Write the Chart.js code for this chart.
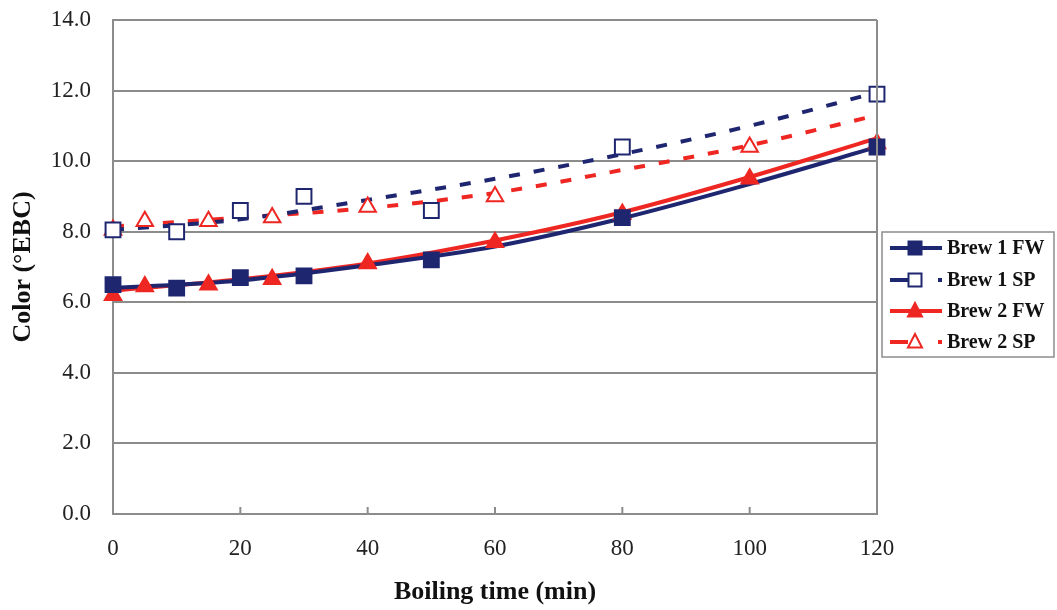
<!DOCTYPE html>
<html>
<head>
<meta charset="utf-8">
<script src="https://cdn.jsdelivr.net/npm/chart.js@4.4.1/dist/chart.umd.min.js"></script>
<style>
  html, body { margin: 0; padding: 0; background: #fff; }
  #wrap { width: 1057px; height: 610px; }
</style>
</head>
<body>
<div id="wrap"><canvas id="chart" width="1057" height="610"></canvas></div>
<script>
// Measured points (boiling time in min, colour in °EBC)
const brew1FwTime = [0, 10, 20, 30, 50, 80, 120];
const brew1FwColor = [6.5, 6.4, 6.7, 6.75, 7.2, 8.4, 10.4];
const brew1SpTime = [0, 10, 20, 30, 50, 80, 120];
const brew1SpColor = [8.05, 8.0, 8.6, 9.0, 8.6, 10.4, 11.9];
const brew2FwTime = [0, 5, 15, 25, 40, 60, 80, 100, 120];
const brew2FwColor = [6.2, 6.45, 6.5, 6.65, 7.1, 7.7, 8.5, 9.5, 10.5];
const brew2SpTime = [0, 5, 15, 25, 40, 60, 100];
const brew2SpColor = [8.05, 8.3, 8.3, 8.4, 8.7, 9.0, 10.4];

// Trend lines
const trendTime = [0, 20, 40, 60, 80, 100, 120];
const brew1FwTrend = [6.4, 6.62, 7.05, 7.58, 8.38, 9.35, 10.4];
const brew1SpTrend = [8.05, 8.35, 8.9, 9.5, 10.2, 11.0, 11.95];
const brew2FwTrend = [6.33, 6.65, 7.1, 7.75, 8.55, 9.55, 10.65];
const brew2SpTrend = [8.15, 8.4, 8.67, 9.1, 9.75, 10.45, 11.3];

const seriesNames = ['Brew 1 FW', 'Brew 1 SP', 'Brew 2 FW', 'Brew 2 SP'];

const NAVY = '#1f2670';
const RED = '#ee2722';
const GRID = '#8c8c8c';
const SERIF = '"Liberation Serif", "Times New Roman", serif';
const DASH = [11, 14];

const toXY = (xs, ys) => xs.map((x, i) => ({ x, y: ys[i] }));

function pointSet(label, xs, ys, color, style, filled) {
    return {
        type: 'scatter',
        label,
        data: toXY(xs, ys),
        showLine: false,
        clip: false,
        pointStyle: style,
        pointRadius: style === 'rect' ? 10.5 : 9.5,
        pointBorderWidth: 2,
        pointBackgroundColor: filled ? color : '#ffffff',
        pointBorderColor: color,
        order: 0
    };
}

function trendSet(label, ys, color, dashed) {
    return {
        type: 'line',
        label,
        data: toXY(trendTime, ys),
        borderColor: color,
        borderWidth: 4,
        borderDash: dashed ? DASH : [],
        pointRadius: 0,
        fill: false,
        cubicInterpolationMode: 'monotone',
        order: 1
    };
}

const datasets = [
    pointSet(seriesNames[0], brew1FwTime, brew1FwColor, NAVY, 'rect', true),
    pointSet(seriesNames[1], brew1SpTime, brew1SpColor, NAVY, 'rect', false),
    pointSet(seriesNames[2], brew2FwTime, brew2FwColor, RED, 'triangle', true),
    pointSet(seriesNames[3], brew2SpTime, brew2SpColor, RED, 'triangle', false),
    trendSet(seriesNames[0] + ' trend', brew1FwTrend, NAVY, false),
    trendSet(seriesNames[1] + ' trend', brew1SpTrend, NAVY, true),
    trendSet(seriesNames[2] + ' trend', brew2FwTrend, RED, false),
    trendSet(seriesNames[3] + ' trend', brew2SpTrend, RED, true)
];

// Frame, inner tick marks on the time axis and the boxed legend
const decorPlugin = {
    id: 'decor',
    afterDraw(chart) {
        const { ctx, chartArea: a, scales } = chart;
        ctx.save();
        ctx.strokeStyle = GRID;
        ctx.lineWidth = 2;
        ctx.beginPath();
        ctx.moveTo(a.right, a.top);
        ctx.lineTo(a.right, a.bottom);
        ctx.stroke();
        scales.x.ticks.forEach(t => {
            const px = scales.x.getPixelForValue(t.value);
            ctx.beginPath();
            ctx.moveTo(px, a.bottom);
            ctx.lineTo(px, a.bottom - 7);
            ctx.stroke();
        });

        // legend
        const bx = 882, by = 232, bw = 172, bh = 125;
        ctx.fillStyle = '#fff';
        ctx.fillRect(bx, by, bw, bh);
        ctx.lineWidth = 1.5;
        ctx.strokeStyle = '#8c8c8c';
        ctx.strokeRect(bx, by, bw, bh);
        const rows = [248, 280, 311, 342];
        const info = [
            [NAVY, false, 'rect', true],
            [NAVY, true, 'rect', false],
            [RED, false, 'triangle', true],
            [RED, true, 'triangle', false]
        ];
        rows.forEach((y, i) => {
            const [color, dashed, style, filled] = info[i];
            ctx.strokeStyle = color;
            ctx.lineWidth = 4;
            ctx.setLineDash(dashed ? [18, 30] : []);
            ctx.beginPath();
            ctx.moveTo(890, y);
            ctx.lineTo(942, y);
            ctx.stroke();
            ctx.setLineDash([]);
            ctx.lineWidth = 2;
            ctx.fillStyle = filled ? color : '#fff';
            ctx.beginPath();
            if (style === 'rect') {
                ctx.rect(915 - 6.5, y - 6.5, 13, 13);
            } else {
                ctx.moveTo(915, y - 8);
                ctx.lineTo(922, y + 5.5);
                ctx.lineTo(908, y + 5.5);
                ctx.closePath();
            }
            ctx.fill();
            ctx.stroke();
            ctx.fillStyle = '#111';
            ctx.font = 'bold 20px ' + SERIF;
            ctx.textBaseline = 'middle';
            ctx.textAlign = 'left';
            ctx.fillText(seriesNames[i], 947, y + 1);
        });
        ctx.restore();
    }
};

new Chart(document.getElementById('chart'), {
    type: 'scatter',
    data: { datasets },
    options: {
        responsive: false,
        animation: false,
        events: [],
        layout: { padding: { top: 20, right: 180, left: 0, bottom: 0 } },
        plugins: {
            legend: { display: false },
            tooltip: { enabled: false }
        },
        scales: {
            x: {
                type: 'linear',
                min: 0,
                max: 120,
                afterFit(scale) { scale.height = 96; },
                grid: { display: false, drawTicks: false },
                border: { display: true, color: GRID, width: 2 },
                ticks: {
                    stepSize: 20,
                    padding: 21,
                    color: '#222',
                    font: { family: SERIF, size: 23 }
                },
                title: {
                    display: true,
                    text: 'Boiling time (min)',
                    color: '#111',
                    padding: { top: 0, bottom: 2 },
                    font: { family: SERIF, size: 26, weight: 'bold' }
                }
            },
            y: {
                type: 'linear',
                min: 0,
                max: 14,
                afterFit(scale) { scale.width = 113; },
                grid: {
                    color: GRID,
                    lineWidth: 2,
                    drawTicks: true,
                    tickLength: 20,
                    tickColor: 'rgba(0,0,0,0)'
                },
                border: { display: true, color: GRID, width: 2 },
                ticks: {
                    stepSize: 2,
                    padding: 2,
                    color: '#222',
                    font: { family: SERIF, size: 23 },
                    callback: v => v.toFixed(1)
                },
                title: {
                    display: true,
                    text: 'Color (°EBC)',
                    color: '#111',
                    padding: { top: 8, bottom: 0 },
                    font: { family: SERIF, size: 26, weight: 'bold' }
                }
            }
        }
    },
    plugins: [decorPlugin]
});
</script>
</body>
</html>
